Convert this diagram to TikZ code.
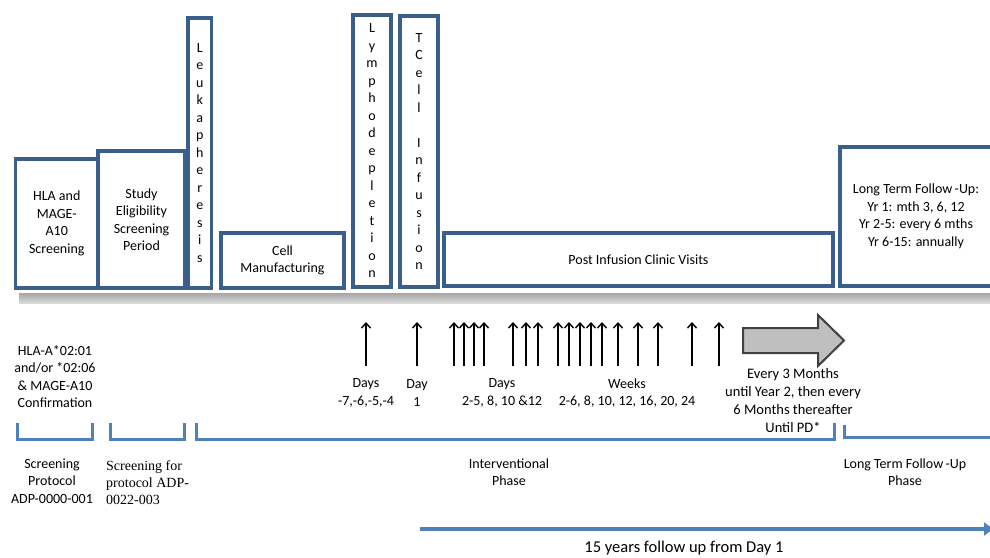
\documentclass[tikz,border=0pt]{standalone}
\usepackage{fontspec}
\setmainfont{Carlito}
\newfontfamily\serifb{Liberation Serif}
\usetikzlibrary{arrows.meta}
\definecolor{boxblue}{HTML}{3A5F8C}
\definecolor{brblue}{HTML}{4F81BD}
\definecolor{agray}{HTML}{BFBFBF}
\definecolor{adark}{HTML}{404040}
\begin{document}
\begin{tikzpicture}[x=1pt,y=-1pt,
  txt/.style={font=\fontsize{14}{17.5}\selectfont, align=center, inner sep=0pt},
  phase/.style={txt, draw=boxblue, line width=3.7pt, fill=white},
  bracket/.style={draw=brblue, line width=3pt},
  visit/.style={line width=1.4pt, -{Straight Barb[length=5pt,width=9pt]}},
]
\clip (0,0) rectangle (990,557);
\fill[white] (0,0) rectangle (990,557);

% top phase boxes
\node[phase, minimum width=82.5pt, minimum height=129pt] (hla) at (56.75,223.5) {HLA and\\MAGE-\\A10\\Screening};
\node[phase, minimum width=87pt, minimum height=137pt] (study) at (141.5,219.5) {Study\\Eligibility\\Screening\\Period};
\node[phase, minimum width=23.5pt, minimum height=270pt] (leuk) at (199.75,153) {L\\e\\u\\k\\a\\p\\h\\e\\r\\e\\s\\i\\s};
\node[phase, minimum width=123pt, minimum height=55pt] (cell) at (282.5,260.5) {Cell\\Manufacturing};
\node[phase, minimum width=38pt, minimum height=272pt] (lymph) at (372,151) {L\\y\\m\\p\\h\\o\\d\\e\\p\\l\\e\\t\\i\\o\\n};
\node[phase, minimum width=38pt, minimum height=271pt] (tcell) at (419,151.5) {T\\C\\e\\l\\l\\\mbox{}\\I\\n\\f\\u\\s\\i\\o\\n};
\node[phase, minimum width=389pt, minimum height=53pt] (post) at (638.5,259.5) {Post Infusion Clinic Visits};
\node[phase, minimum width=152pt, minimum height=139pt] (ltfu) at (916,216.5) {Long Term Follow\,-Up:\\Yr 1: mth 3, 6, 12\\Yr 2-5: every 6 mths\\Yr 6-15: annually};

% gray timeline bar
\shade[top color=gray!70, middle color=gray!100, bottom color=gray!30] (19,293) rectangle (995,303);

% visit arrows
\foreach \x in {366,417,454,464,474,484,513,526,538,558,569,580,591,602,618,638,658,692,719}
  \draw[visit] (\x,366) -- (\x,322);

% big gray arrow
\draw[draw=adark, fill=agray, line width=2pt, line join=miter]
  (743,328) -- (818,328) -- (818,315) -- (844,340.5) -- (818,366) -- (818,353) -- (743,353) -- cycle;

% labels under arrows
\node[txt] (dm7) at (366,393) {Days\\-7,-6,-5,-4};
\node[txt] (d1) at (417,393) {Day\\1};
\node[txt] (d2) at (502,393) {Days\\2-5, 8, 10 \&12};
\node[txt] (wk) at (627,393) {Weeks\\2-6, 8, 10, 12, 16, 20, 24};
\node[txt, font=\fontsize{14.5}{17.7}\selectfont] (ev) at (793,400.5) {Every 3 Months\\until Year 2, then every\\6 Months thereafter\\Until PD*};

\node[txt] (conf) at (55,376.5) {HLA-A*02:01\\and/or *02:06\\\& MAGE-A10\\Confirmation};

% brackets
\draw[bracket] (17,423) -- (17,439) -- (92,439) -- (92,423);
\draw[bracket] (110,423) -- (110,439) -- (184,439) -- (184,423);
\draw[bracket] (196,423) -- (196,439) -- (834,439) -- (834,423);
\draw[bracket] (844,425) -- (844,437) -- (995,437);

% phase labels
\node[txt] (sp) at (52,481) {Screening\\Protocol\\ADP-0000-001};
\node[txt, align=left, anchor=west, font=\serifb\fontsize{14}{17}\selectfont] (sfp) at (106,483) {Screening for\\protocol ADP-\\0022-003};
\node[txt] (ip) at (509,472) {Interventional\\Phase};
\node[txt] (lp) at (905,472) {Long Term Follow\,-Up\\Phase};

% 15 years arrow
\coordinate (fs) at (420,529);
\coordinate (fe) at (993,529);
\draw[draw=brblue, line width=4pt, -{Triangle[length=9pt,width=13pt]}] (fs) -- (fe);
\node[txt, font=\fontsize{16.5}{20}\selectfont] (fy) at (684,548) {15 years follow up from Day 1};
\end{tikzpicture}
\end{document}
